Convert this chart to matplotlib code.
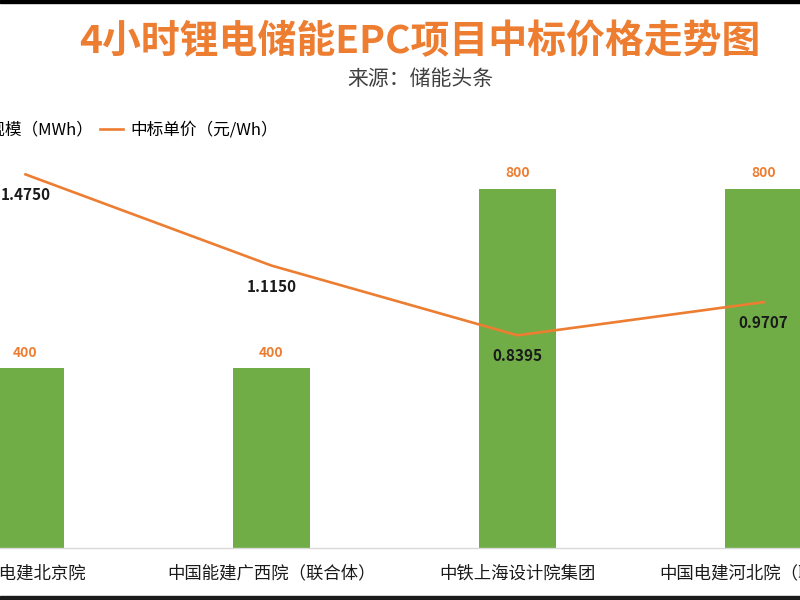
import matplotlib
matplotlib.use("Agg")
import matplotlib.pyplot as plt
from matplotlib.patches import Patch, Rectangle
from matplotlib.lines import Line2D

plt.rcParams['font.family'] = ['Noto Sans CJK SC', 'DejaVu Sans']

categories = ["中国电建北京院", "中国能建广西院（联合体）", "中铁上海设计院集团", "中国电建河北院（联合体）"]
capacity_mwh = [400, 400, 800, 800]
price_yuan_wh = [1.4750, 1.1150, 0.8395, 0.9707]
price_labels = ["1.4750", "1.1150", "0.8395", "0.9707"]

GREEN = "#70AD47"
ORANGE = "#ED7D31"

fig = plt.figure(figsize=(8, 6), dpi=100)
ax = fig.add_axes([0.0, 52 / 600, 1.0, 449 / 600])
ax2 = ax.twinx()

x = list(range(len(categories)))
bars = ax.bar(x, capacity_mwh, width=0.317, color=GREEN, zorder=2)
ax.bar_label(bars, labels=[str(v) for v in capacity_mwh], padding=6,
             fontsize=10, fontweight='bold', color=ORANGE)

ax2.plot(x, price_yuan_wh, color=ORANGE, linewidth=1.9, zorder=3)
for xi, yi, lab in zip(x, price_yuan_wh, price_labels):
    ax2.annotate(lab, (xi, yi), xytext=(0, -21), textcoords='offset pixels',
                 ha='center', va='center', fontsize=11, fontweight='bold',
                 color='#1a1a1a')

ax.set_xlim(-25.5 / 246, (800 - 25.5) / 246)
ax.set_ylim(0, 1000)
ax2.set_ylim(0, 449 / 253.3)

for a in (ax, ax2):
    for s in ('top', 'left', 'right'):
        a.spines[s].set_visible(False)
    a.set_yticks([])
ax2.spines['bottom'].set_visible(False)
ax.spines['bottom'].set_color('#D9D9D9')
ax.spines['bottom'].set_linewidth(1.0)
ax.set_xticks(x)
ax.set_xticklabels(categories, fontsize=12.5, color='#1a1a1a')
ax.tick_params(axis='x', length=0, pad=12)
ax.set_zorder(1)
ax2.set_zorder(2)
ax.patch.set_visible(False)
ax2.patch.set_visible(False)

handles = [Patch(facecolor=GREEN, edgecolor='none'),
           Line2D([0], [0], color=ORANGE, linewidth=1.9)]
fig.legend(handles, ["储能规模（MWh）", "中标单价（元/Wh）"], ncol=2,
           loc='center left', bbox_to_anchor=(-0.112, 1 - 130 / 600),
           bbox_transform=fig.transFigure, frameon=False, fontsize=12,
           handlelength=1.4, handletextpad=0.4, columnspacing=0.4)

fig.text(420 / 800, 1 - 42 / 600, "4小时锂电储能EPC项目中标价格走势图",
         ha='center', va='center', fontsize=28, fontweight='bold', color=ORANGE)
fig.text(420 / 800, 1 - 79 / 600, "来源：储能头条",
         ha='center', va='center', fontsize=15, color='#404040')

# screenshot border strips
fig.add_artist(Rectangle((0, 1 - 3 / 600), 1, 3 / 600, transform=fig.transFigure,
                         color='black', zorder=10))
fig.add_artist(Rectangle((0, 0), 1, 4 / 600, transform=fig.transFigure,
                         color='#1a1a1a', zorder=10))

fig.savefig("out.png", dpi=100)
